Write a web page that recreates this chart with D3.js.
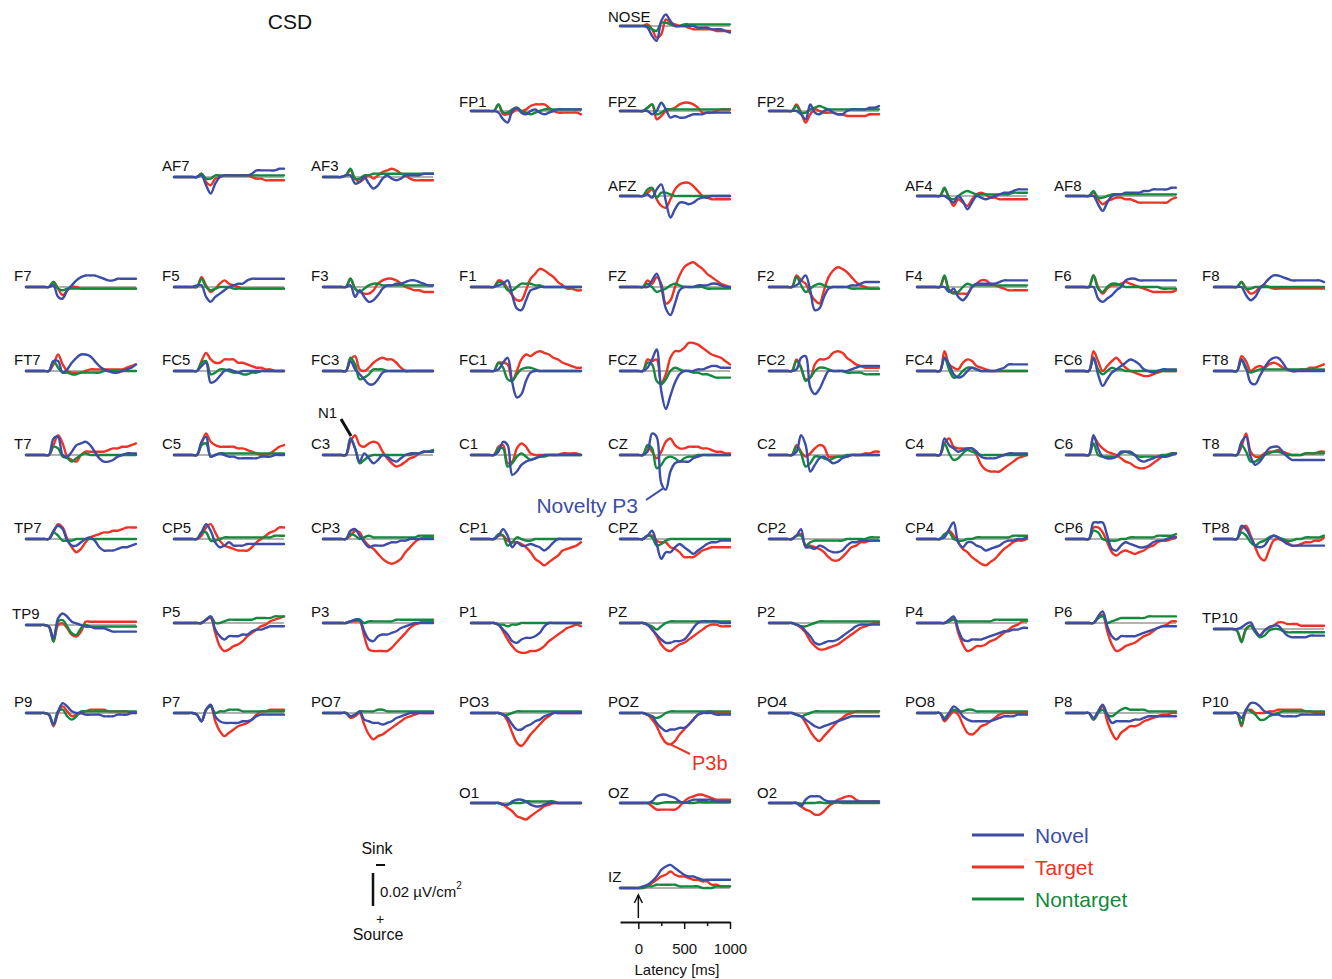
<!DOCTYPE html>
<html>
<head>
<meta charset="utf-8">
<title>CSD</title>
<script src="https://cdn.jsdelivr.net/npm/d3@7"></script>
<style>
  html, body { margin: 0; padding: 0; background: #fff; }
  svg { display: block; font-family: "Liberation Sans", Arial, Helvetica, sans-serif; }
</style>
</head>
<body>
<svg id="chart" width="1332" height="979"></svg>
<script>
'use strict';

// sample times in ms, one every 50 ms
const times = [-200, -150, -100, -50, 0, 50, 100, 150, 200, 250, 300, 350, 400, 450,
  500, 550, 600, 650, 700, 750, 800, 850, 900, 950, 1000];

// CSD in 0.001 µV/cm² (sink negative, drawn up; source positive, drawn down)
const novel = {
  NOSE: [0,0,0,0,0, 0,1,6,9, -3,-7,-3,0,0, 0,0,0,1,1, 1,2,2,2,3,4],
  FP1:  [0,0,0,0,0, 0,1,5,7, 0,-2,1,2,0, -1,1,2,1,0, -1,-1,-1,-1,-1,-1],
  FPZ:  [0,0,0,0,0, 0,0,2,0, -5,-1,4,3,4, 4,3,2,2,2, 1,1,1,1,1,1],
  FP2:  [0,0,0,0,0, 0,0,2,5, -4,1,2,0,-1, 1,2,2,0,-1, -1,-1,-1,-2,-2,-3],
  AF7:  [0,0,0,0,0, 0,-1,5,10, 4,0,-1,-1,-1, -1,-1,-1,-2,-4, -4,-4,-4,-4,-5,-5],
  AF3:  [0,0,0,0,0, -1,-1,4,3, 0,4,7,5,1, -1,1,2,1,-1, -1,-1,-1,-2,-2,-2],
  AFZ:  [0,0,0,0,0, 0,-1,1,-4, -7,3,13,8,4, 4,5,4,2,1, 1,0,0,0,0,0],
  AF4:  [0,0,0,0,0, 0,0,2,4, 0,3,8,4,0, 1,2,1,0,-1, -2,-2,-3,-4,-4,-4],
  AF8:  [0,0,0,0,0, 0,0,5,9, 4,0,-1,-1,-2, -2,-2,-2,-3,-3, -4,-4,-4,-4,-5,-5],
  F7:   [0,0,0,0,0, 0,-1,6,7, 2,-1,-4,-6,-7, -7,-7,-6,-5,-4, -4,-5,-5,-5,-5,-5],
  F5:   [0,0,0,0,0, -1,-1,6,9, 6,4,2,0,-1, -2,-2,-4,-5,-5, -5,-5,-5,-5,-5,-5],
  F3:   [0,0,0,0,0, 0,-1,6,2, 6,9,8,5,1, -1,-1,-2,-2,-3, -4,-4,-3,-2,-1,-1],
  F1:   [0,0,0,0,0, 0,-1,-2,-4, 5,13,14,8,2, 1,0,0,0,0, 0,0,0,0,0,0],
  FZ:   [0,0,0,0,0, 0,0,-4,-8, 0,13,17,10,2, 0,0,0,-1,-1, -1,-2,-2,-1,0,0],
  F2:   [0,0,0,0,0, 0,-1,-4,-7, 2,14,13,6,1, 0,0,0,0,-1, -1,-2,-3,-3,-3,-3],
  F4:   [0,0,0,0,0, 0,0,3,1, 6,8,5,0,-2, -2,-2,-2,-2,-3, -4,-4,-4,-4,-4,-4],
  F6:   [0,0,0,0,0, 0,0,7,9, 7,5,2,0,-4, -5,-5,-4,-4,-4, -4,-4,-4,-4,-4,-4],
  F8:   [0,0,0,0,0, 0,0,5,8, 6,1,-2,-5,-7, -7,-6,-5,-4,-4, -4,-4,-4,-4,-4,-3],
  FT7:  [0,0,0,0,0, 0,-6,-6,1, -1,-5,-8,-10,-10, -9,-6,-3,-1,0, 1,1,0,-1,-2,-4],
  FC5:  [0,0,0,0,0, 0,-3,-5,7, 6,3,0,-1,0, 1,0,0,0,0, 0,0,0,0,0,0],
  FC3:  [0,0,0,0,0, 0,-6,-1,2, 5,8,8,5,1, 0,0,0,0,0, 0,0,0,0,0,0],
  FC1:  [0,0,0,0,0, 0,-1,-5,-8, 7,16,14,6,1, 0,0,0,0,0, 0,0,0,0,0,0],
  FCZ:  [0,0,0,0,0, 0,-2,-7,-13, 12,23,15,7,2, 0,0,0,-1,-1, -2,-3,-3,-2,-2,-2],
  FC2:  [0,0,0,0,0, 0,-1,-8,-9, 10,14,11,5,0, 0,0,0,0,-1, -2,-3,-3,-3,-3,-3],
  FC4:  [0,0,0,0,0, 0,-8,-4,2, 4,3,0,-2,-1, 0,0,0,0,-1, -2,-4,-4,-4,-4,-4],
  FC6:  [0,0,0,0,0, 0,-8,2,9, 5,1,-1,-3,-5, -7,-6,-4,-1,0, 1,0,-1,-1,-1,-1],
  FT8:  [0,0,0,0,0, 0,-7,-2,7, 8,3,-2,-6,-8, -8,-5,-1,0,0, 0,0,0,0,0,0],
  T7:   [0,0,0,0,0, 0,-10,-11,0, 1,-2,-6,-7,-8, -6,-2,2,4,4, 3,1,0,-1,-1,-1],
  C5:   [0,0,0,0,0, 0,-8,-11,1, 0,-1,0,1,1, 2,2,2,2,2, 1,1,1,0,0,0],
  C3:   [0,0,0,0,0, 0,-10,-4,4, -1,2,5,3,0, 1,3,4,2,0, -1,-1,-1,-2,-2,-2],
  C1:   [0,0,0,0,0, 0,-2,-8,-6, 12,10,6,4,3, 2,1,0,0,0, 0,0,0,0,0,0],
  CZ:   [0,0,0,0,0, 0,-2,-13,-11, 17,21,10,5,4, 4,4,2,1,0, 0,0,0,0,0,0],
  C2:   [0,0,0,0,0, 0,-2,-12,-6, 10,6,2,1,3, 5,4,2,1,0, 0,0,0,0,0,0],
  C4:   [0,0,0,0,0, 0,-10,-6,-4, -2,-3,-4,-4,-2, 1,2,2,2,1, 0,-1,-1,-1,-1,-1],
  C6:   [0,0,0,0,0, 0,-12,-4,1, 2,2,1,-2,-2, -2,0,3,4,3, 2,1,1,1,0,-1],
  T8:   [0,0,0,0,0, 0,-8,-11,1, 6,4,0,-4,-5, -5,-2,1,3,3, 3,3,3,3,3,3],
  TP7:  [0,0,0,0,0, 0,-5,-8,-6, 1,4,4,2,0, -1,1,5,7,7, 7,6,5,5,4,3],
  CP5:  [0,0,0,0,0, 0,-4,-9,-5, 2,5,4,2,4, 4,4,3,3,3, 3,3,3,3,3,3],
  CP3:  [0,0,0,0,0, 0,-5,-6,-2, 2,5,4,4,4, 3,2,2,1,1, 0,0,0,0,0,0],
  CP1:  [0,0,0,0,0, 0,-2,-6,-2, 5,2,4,4,3, 4,5,7,5,2, 0,0,0,0,0,0],
  CPZ:  [0,0,0,0,0, 0,-2,-5,3, 12,8,8,5,3, 5,7,9,7,5, 3,2,2,1,1,1],
  CP2:  [0,0,0,0,0, 0,-2,-6,5, 5,6,4,5,7, 8,8,7,4,2, 2,1,1,1,1,1],
  CP4:  [0,0,0,0,0, 0,-1,-6,-10, 2,5,2,2,4, 5,7,6,5,4, 2,1,1,0,0,-1],
  CP6:  [0,0,0,0,0, 0,-10,-10,-10, -2,6,7,4,2, 3,4,5,5,4, 2,1,1,0,-1,-1],
  TP8:  [0,0,0,0,0, 0,-8,-6,-1, 4,5,4,0,-2, -1,1,3,4,4, 4,4,4,4,4,4],
  TP9:  [0,0,0,0,0, 1,8,-4,-7, -5,-2,-1,0,1, 1,2,2,2,3, 4,4,4,4,4,4],
  P5:   [0,0,0,0,0, 0,0,-2,-4, 4,8,10,8,8, 8,7,7,5,4, 4,3,2,2,2,2],
  P3:   [0,0,0,0,0, 0,-1,-2,-2, 5,10,11,8,7, 7,6,5,3,2, 1,0,0,0,0,0],
  P1:   [0,0,0,0,0, 0,1,4,7, 11,12,10,9,9, 8,6,2,0,0, 0,0,0,0,0,0],
  PZ:   [0,0,0,0,0, 0,1,4,7, 10,12,12,11,11, 10,7,3,0,-1, -1,-1,-1,0,0,0],
  P2:   [0,0,0,0,0, 0,1,2,5, 8,12,13,12,11, 11,10,8,6,4, 2,1,1,1,1,1],
  P4:   [0,0,0,0,0, 0,0,-2,-4, 4,10,11,10,10, 10,9,8,7,6, 5,5,4,4,3,3],
  P6:   [0,0,0,0,0, 0,0,-4,-7, 2,8,10,8,8, 8,8,7,6,5, 4,3,2,2,2,2],
  TP10: [0,0,0,0,0, 0,-1,-3,-4, 1,4,1,-1,-2, -2,1,4,5,5, 5,5,4,4,4,4],
  P9:   [0,0,0,0,0, 1,7,-1,-6, -4,-1,0,0,1, 1,1,1,2,2, 2,1,1,1,0,0],
  P7:   [0,0,0,0,0, 1,5,-2,-5, 2,5,6,6,6, 6,5,5,4,2, 1,1,1,1,1,1],
  PO7:  [0,0,0,0,0, 0,2,1,-1, 4,5,6,6,7, 6,5,3,2,1, 0,0,0,0,0,0],
  PO3:  [0,0,0,0,0, 0,0,1,3, 7,10,10,8,7, 5,4,2,1,0, 0,0,0,0,0,0],
  POZ:  [0,0,0,0,0, 0,1,2,6, 9,11,10,10,9, 9,7,4,1,0, 0,0,1,1,1,1],
  PO4:  [0,0,0,0,0, 0,1,2,4, 6,8,9,8,7, 6,5,4,3,2, 2,2,2,2,2,2],
  PO8:  [0,0,0,0,0, 0,4,0,-4, -2,2,4,5,5, 5,5,5,4,3, 2,2,2,1,1,1],
  P8:   [0,0,0,0,0, 0,3,-1,-5, 1,6,5,5,5, 5,4,4,3,2, 2,2,2,2,2,2],
  P10:  [0,0,0,0,0, 0,3,-2,-6, -6,-4,-1,0,1, 1,2,2,2,2, 1,1,1,1,1,1],
  O1:   [0,0,0,0,0, 0,0,1,1, -1,-2,-2,-1,1, 2,2,1,0,0, 0,0,0,0,0,0],
  OZ:   [0,0,0,0,0, 0,0,-1,-4, -5,-5,-4,-3,-1, 0,-1,-2,-2,-2, -2,-2,-1,-1,-1,-1],
  O2:   [0,0,0,0,0, 0,0,2,-2, -4,-4,-4,-2,-1, -1,-1,-1,-1,-1, -1,-1,-1,-1,-1,-1],
  IZ:   [0,0,0,0,0, -1,-2,-4,-7, -11,-13,-14,-12,-10, -8,-7,-7,-6,-5, -5,-5,-5,-5,-5,-5],
};

const target = {
  NOSE: [0,0,0,0,0, 0,-1,2,7, 5,-4,-2,-1,0, 0,1,2,2,2, 2,2,3,3,3,3],
  FP1:  [0,0,0,0,0, 0,-4,2,2, 1,-1,0,-1,-3, -4,-4,-4,-2,0, 1,1,1,1,1,2],
  FPZ:  [0,0,0,0,0, 0,-2,-4,5, 3,0,-1,-2,-4, -5,-5,-4,-2,1, 1,1,0,-1,-1,-1],
  FP2:  [0,0,0,0,0, 0,-4,1,7, 2,-1,0,1,1, 1,2,2,3,3, 3,3,3,2,2,2],
  AF7:  [0,0,0,0,0, 0,-2,3,5, 1,0,-1,-1,-1, -1,-1,-1,0,1, 1,2,2,2,2,2],
  AF3:  [0,0,0,0,0, -1,-4,1,3, 1,-1,1,-1,-3, -4,-5,-4,-2,-1, 1,2,2,2,2,2],
  AFZ:  [0,0,0,0,0, 0,-2,-4,2, 6,7,2,-4,-7, -8,-8,-6,-3,0, 1,2,2,2,2,2],
  AF4:  [0,0,0,0,0, 0,-4,1,6, 2,4,6,2,-1, -2,-1,1,1,2, 2,2,2,2,2,2],
  AF8:  [0,0,0,0,0, 0,-2,2,5, 3,2,1,1,2, 2,3,4,4,4, 4,4,4,4,2,1],
  F7:   [0,0,0,0,0, 0,-3,1,5, 2,0,0,1,1, 1,1,1,1,1, 1,1,1,1,1,1],
  F5:   [0,0,0,0,0, 0,-6,-1,3, 1,-2,-4,-2,-1, 0,1,1,1,1, 1,1,1,1,1,1],
  F3:   [0,0,0,0,0, 0,-5,1,3, 4,4,2,-2,-4, -5,-5,-4,-2,0, 1,2,2,3,3,3],
  F1:   [0,0,0,0,0, 0,-4,-3,1, 5,8,8,2,-5, -8,-11,-10,-8,-6, -3,-1,1,1,2,2],
  FZ:   [0,0,0,0,0, 0,-4,-2,-6, -2,10,8,0,-7, -12,-14,-15,-13,-11, -8,-6,-4,-2,-1,0],
  F2:   [0,0,0,0,0, 0,-7,-4,-2, 4,8,10,2,-6, -10,-12,-11,-9,-6, -3,-1,0,1,1,1],
  F4:   [0,0,0,0,0, 0,-6,2,3, 4,4,4,0,-2, -4,-4,-2,-1,0, 1,2,2,2,2,2],
  F6:   [0,0,0,0,0, 0,-7,0,4, 1,-1,-1,-2,-3, -2,-1,0,1,2, 3,3,3,3,3,2],
  F8:   [0,0,0,0,0, 0,-3,1,4, 3,0,-1,0,1, 1,1,1,1,1, 1,1,1,1,1,1],
  FT7:  [0,0,0,0,0, 0,-4,-10,-4, 0,1,1,1,0, -1,-1,-1,-1,-1, -1,-1,-1,-2,-3,-4],
  FC5:  [0,0,0,0,0, 0,-6,-11,-7, -5,-5,-7,-7,-7, -5,-5,-4,-3,-2, -2,-1,-1,0,0,0],
  FC3:  [0,0,0,0,0, 0,-7,-9,-1, 0,-2,-5,-7,-8, -7,-7,-5,-2,0, 0,0,0,0,0,0],
  FC1:  [0,0,0,0,0, 0,-5,-5,-4, 6,0,-7,-10,-9, -11,-12,-11,-10,-8, -7,-5,-4,-3,-2,-2],
  FCZ:  [0,0,0,0,0, 0,-7,-6,-7, 7,2,-8,-12,-12, -14,-17,-17,-16,-14, -12,-10,-9,-8,-6,-4],
  FC2:  [0,0,0,0,0, 0,-7,-2,5, 4,-4,-7,-7,-8, -11,-12,-11,-8,-6, -4,-3,-2,-2,-2,-2],
  FC4:  [0,0,0,0,0, 0,-12,-4,-2, -1,-5,-7,-6,-3, -2,-1,0,0,0, 0,0,0,0,0,0],
  FC6:  [0,0,0,0,0, 0,-12,-6,0, -3,-6,-8,-5,-2, 0,1,2,3,3, 2,1,0,0,0,0],
  FT8:  [0,0,0,0,0, 0,-9,-6,0, -2,-3,-2,-4,-5, -4,-2,-1,0,0, -1,-1,-2,-2,-3,-4],
  T7:   [0,0,0,0,0, 0,-6,-12,-7, 1,3,4,0,-2, -2,-2,-2,-2,-3, -4,-4,-5,-5,-6,-7],
  C5:   [0,0,0,0,0, 0,-7,-13,-8, -6,-5,-5,-5,-5, -4,-4,-3,-2,-1, 0,0,-1,-3,-5,-6],
  C3:   [0,0,0,0,0, 0,-8,-12,-6, -5,-7,-8,-7,-2, 2,5,7,6,4, 2,1,-1,-2,-2,-3],
  C1:   [0,0,0,0,0, 0,-5,-6,5, 4,-4,-7,-5,-1, 0,0,0,0,0, 0,-1,-1,-1,-1,0],
  CZ:   [0,0,0,0,0, 0,-5,-2,2, -2,-8,-10,-6,-4, -4,-5,-5,-5,-4, -4,-3,-2,-2,-1,-1],
  C2:   [0,0,0,0,0, 0,-6,-2,1, -1,-4,-6,-5,1, 1,1,1,1,0, 0,0,-1,-1,-2,-2],
  C4:   [0,0,0,0,0, 0,-7,-10,-5, -4,-4,-4,-4,0, 6,9,10,10,10, 8,6,4,2,1,0],
  C6:   [0,0,0,0,0, 0,-11,-7,-4, -2,-1,0,2,4, 5,7,8,8,7, 5,3,1,0,-1,-1],
  T8:   [0,0,0,0,0, 0,-5,-13,-2, 1,1,-1,-2,-2, -3,-2,-1,0,0, 0,-1,-1,-1,-2,-2],
  TP7:  [0,0,0,0,0, 0,-4,-9,-7, 0,5,8,6,2, -1,-2,-3,-4,-4, -5,-5,-6,-7,-7,-7],
  CP5:  [0,0,0,0,0, 0,-2,-7,-9, -4,1,4,5,6, 7,7,7,5,2, 0,-2,-4,-5,-7,-7],
  CP3:  [0,0,0,0,0, 0,-2,-5,-4, 1,4,6,9,12, 14,15,14,12,8, 5,2,0,-1,-1,-1],
  CP1:  [0,0,0,0,0, 0,-2,-2,1, 2,2,3,5,8, 12,14,16,14,12, 10,7,6,5,4,2],
  CPZ:  [0,0,0,0,0, 0,-2,-2,1, 2,2,5,6,8, 11,11,11,9,7, 6,5,5,5,5,5],
  CP2:  [0,0,0,0,0, 0,-2,-3,4, 4,5,6,8,11, 13,13,11,8,5, 4,2,2,1,1,1],
  CP4:  [0,0,0,0,0, 0,-2,-5,-2, 2,6,8,11,13, 15,16,14,12,9, 6,4,2,1,1,0],
  CP6:  [0,0,0,0,0, 0,-7,-7,-4, 2,8,10,8,7, 8,9,8,7,5, 4,2,1,1,0,-1],
  TP8:  [0,0,0,0,0, 0,-6,-8,-2, 5,11,13,7,1, 0,1,2,4,4, 3,2,2,1,1,-1],
  TP9:  [0,0,0,0,0, 1,10,0,-1, 2,6,7,4,-2, -2,-2,-2,-2,-2, -2,-2,-2,-2,-2,-2],
  P5:   [0,0,0,0,0, 0,0,-2,-3, 6,14,17,16,14, 13,11,8,6,4, 2,1,-1,-2,-3,-4],
  P3:   [0,0,0,0,0, 0,-1,-1,-1, 8,16,17,17,17, 17,15,12,9,6, 3,1,0,-1,-1,-1],
  P1:   [0,0,0,0,0, 0,1,5,10, 14,17,18,18,17, 17,16,14,11,9, 7,5,3,2,1,2],
  PZ:   [0,0,0,0,0, 0,1,4,8, 13,16,17,15,13, 12,10,8,6,4, 2,1,1,2,2,2],
  P2:   [0,0,0,0,0, 0,1,3,6, 11,14,16,16,15, 14,13,11,9,7, 5,3,2,1,0,0],
  P4:   [0,0,0,0,0, 0,0,-1,-3, 6,13,17,16,14, 14,13,11,10,8, 6,4,2,1,-1,-1],
  P6:   [0,0,0,0,0, 0,0,-3,-5, 5,13,17,16,14, 13,12,10,8,7, 5,3,2,1,-1,-1],
  TP10: [0,0,0,0,0, 1,7,0,-2, 1,4,1,-1,-2, -4,-4,-3,-3,-3, -2,-2,-2,-2,-2,-2],
  P9:   [0,0,0,0,0, 1,8,0,-4, -1,2,1,0,-1, -2,-2,-2,-2,-1, -1,-1,-1,-1,0,0],
  P7:   [0,0,0,0,0, 1,5,-2,-4, 5,11,14,12,10, 8,7,6,4,1, -1,-1,-2,-2,-2,-2],
  PO7:  [0,0,0,0,0, 0,3,2,0, 7,13,16,14,13, 11,9,7,5,3, 2,1,0,0,0,0],
  PO3:  [0,0,0,0,0, 0,0,1,5, 12,18,20,17,13, 10,7,4,2,0, 0,0,0,0,0,0],
  POZ:  [0,0,0,0,0, 0,1,4,8, 14,18,19,17,13, 10,7,4,1,0, -1,-1,0,0,0,0],
  PO4:  [0,0,0,0,0, 0,1,2,6, 11,15,17,14,11, 8,5,3,1,0, -1,-1,-1,-1,-1,-1],
  PO8:  [0,0,0,0,0, 0,5,2,-1, 1,7,12,13,11, 8,7,5,3,1, 0,0,0,0,0,0],
  P8:   [0,0,0,0,0, 0,4,0,-4, 5,12,16,12,10, 8,8,7,5,4, 3,2,1,1,0,0],
  P10:  [0,0,0,0,0, 0,8,-1,-2, 0,0,0,-1,-1, -2,-2,-2,-2,-2, -2,-1,-1,0,0,0],
  O1:   [0,0,0,0,0, 0,0,1,3, 5,8,9,10,8, 6,4,2,1,0, 0,0,0,0,0,0],
  OZ:   [0,0,0,0,0, 0,0,2,4, 4,4,4,4,2, -1,-3,-4,-5,-5, -4,-3,-2,-2,-2,-2],
  O2:   [0,0,0,0,0, 0,0,2,4, 5,7,7,5,2, 0,-2,-3,-4,-4, -2,-1,-1,-1,-1,-1],
  IZ:   [0,0,0,0,0, 0,-1,-3,-5, -7,-8,-10,-8,-7, -7,-6,-5,-5,-4, -4,-2,-2,-1,-1,-1],
};

const nontarget = {
  NOSE: [0,0,0,0,0, 0,0,2,3, -2,-2,-1,0,0, -1,-1,-1,-1,-1, -1,-1,-1,-1,-1,-1],
  FP1:  [0,0,0,0,0, 0,-4,1,1, -1,-2,0,1,2, 1,0,-1,-1,-1, -1,-1,-1,-1,-1,-1],
  FPZ:  [0,0,0,0,0, 0,-2,-4,2, 1,-1,-1,-1,-1, -1,-1,-1,-1,-1, -1,-1,-1,-1,-1,-1],
  FP2:  [0,0,0,0,0, 0,-3,1,1, -1,-2,-3,-2,-1, -1,-1,-1,-1,-1, -1,-1,-1,-1,-1,-1],
  AF7:  [0,0,0,0,0, 0,-2,1,1, -1,-1,-1,-1,-1, -1,-1,-1,-1,-1, -1,-1,-1,-1,-1,-1],
  AF3:  [0,0,0,0,0, -1,-5,1,1, -1,-1,-2,-2,-2, -2,-2,-2,-2,-2, -2,-2,-2,-2,-2,-2],
  AFZ:  [0,0,0,0,0, 0,-4,-5,1, -2,-2,-1,0,0, 0,0,0,0,0, 0,0,0,0,0,0],
  AF4:  [0,0,0,0,0, 0,-5,1,2, 0,-2,-3,-2,-1, -1,-1,-1,-1,-1, -1,-1,-2,-2,-2,-2],
  AF8:  [0,0,0,0,0, 0,-3,1,1, 0,-1,-1,-1,-1, -1,-1,-1,-1,-1, -1,-1,-1,-1,-1,-1],
  F7:   [0,0,0,0,0, 0,-3,1,2, 1,1,1,1,1, 1,1,1,1,1, 1,1,1,1,1,1],
  F5:   [0,0,0,0,0, 0,-5,0,2, 1,0,0,0,1, 1,1,1,1,1, 1,1,1,1,1,1],
  F3:   [0,0,0,0,0, 0,-5,1,3, 1,-1,-2,-2,-1, -1,-1,-1,-1,-1, -1,-1,-1,-1,-1,-1],
  F1:   [0,0,0,0,0, 0,-3,-2,2, 2,0,-2,-2,-2, -1,-1,0,0,0, 0,0,0,0,0,0],
  FZ:   [0,0,0,0,0, 0,-2,0,3, 2,1,-1,-2,-1, 0,0,0,0,0, 1,1,1,1,1,1],
  F2:   [0,0,0,0,0, 0,-6,-1,3, 1,-1,-2,-1,0, 0,0,0,0,1, 1,1,1,1,1,1],
  F4:   [0,0,0,0,0, 0,-7,2,4, 3,0,-2,-1,-1, -1,-1,-1,-1,-1, -1,-1,-1,-1,-1,-1],
  F6:   [0,0,0,0,0, 0,-7,1,3, 0,-2,-2,-1,0, 0,0,0,0,0, 0,0,1,1,1,1],
  F8:   [0,0,0,0,0, 0,-3,1,1, 0,0,0,0,0, 0,0,0,0,0, 0,0,0,0,0,0],
  FT7:  [0,0,0,0,0, 0,-6,-2,1, 1,2,2,1,1, 1,1,1,0,0, 0,0,0,0,0,0],
  FC5:  [0,0,0,0,0, 0,-5,-6,2, 1,-1,-1,0,1, 1,2,2,1,1, 0,0,0,0,0,0],
  FC3:  [0,0,0,0,0, 0,-8,-4,5, 4,2,-1,-1,-1, 0,0,0,0,0, 0,0,0,0,0,0],
  FC1:  [0,0,0,0,0, 0,-5,-2,5, 6,2,-1,-2,-2, -1,0,0,0,0, 0,0,0,0,0,0],
  FCZ:  [0,0,0,0,0, 0,-5,-4,6, 8,5,0,-2,-1, 0,0,1,1,2, 2,3,4,4,4,4],
  FC2:  [0,0,0,0,0, 0,-6,-2,6, 4,0,-2,-2,-1, 0,0,0,1,1, 1,1,2,2,2,2],
  FC4:  [0,0,0,0,0, 0,-8,-1,4, 3,0,-2,-2,-1, 0,0,0,0,0, 0,0,0,0,0,0],
  FC6:  [0,0,0,0,0, 0,-8,-1,2, 0,-2,-1,-1,0, 0,0,0,0,0, 0,0,0,0,0,0],
  FT8:  [0,0,0,0,0, 0,-7,-1,1, 0,-1,-1,-1,-1, -1,-1,-1,-1,-1, -1,-1,-1,-1,-1,-1],
  T7:   [0,0,0,0,0, 0,-5,-4,1, 2,4,2,0,-1, 0,0,0,0,0, 0,0,0,0,0,0],
  C5:   [0,0,0,0,0, 0,-6,-7,1, 0,-1,-1,-1,-1, -1,-1,-1,-1,-1, -1,-1,-1,-1,-1,-1],
  C3:   [0,0,0,0,0, 0,-10,-4,5, 3,1,0,0,0, 0,0,0,0,0, 0,-1,-1,-2,-2,-3],
  C1:   [0,0,0,0,0, 0,-4,-4,7, 5,1,-1,1,3, 2,1,1,0,0, 0,0,0,0,0,0],
  CZ:   [0,0,0,0,0, 0,-6,-4,8, 6,2,1,2,4, 2,1,1,0,0, 0,0,0,0,0,0],
  C2:   [0,0,0,0,0, 0,-5,-1,7, 5,1,1,2,3, 2,1,1,0,0, 0,0,0,0,0,0],
  C4:   [0,0,0,0,0, 0,-7,-1,3, 2,-1,-3,-2,-1, 0,0,0,0,0, 0,0,0,0,0,0],
  C6:   [0,0,0,0,0, 0,-7,0,1, 1,1,1,-1,-2, -1,0,1,1,1, 1,1,0,0,-1,-1],
  T8:   [0,0,0,0,0, 0,-6,-2,4, 4,2,0,-1,-2, -2,-1,0,0,0, 0,-1,-1,-1,-1,-1],
  TP7:  [0,0,0,0,0, 0,-4,-2,1, 1,1,0,0,0, 0,0,0,0,0, 0,0,0,0,0,0],
  CP5:  [0,0,0,0,0, 0,-4,-4,1, 1,0,-1,-1,-1, -1,-1,-1,-1,-1, -1,-1,-1,-2,-2,-2],
  CP3:  [0,0,0,0,0, 0,-3,-2,0, -1,-2,-1,-1,-1, -1,-1,-1,-1,-1, -1,-1,-2,-2,-2,-2],
  CP1:  [0,0,0,0,0, 0,-3,-2,4, 2,-1,0,1,1, 0,0,0,0,0, 0,0,0,0,0,0],
  CPZ:  [0,0,0,0,0, 0,-2,-1,4, 3,1,0,0,0, 0,0,0,0,0, 0,0,0,0,0,0],
  CP2:  [0,0,0,0,0, 0,-2,-2,4, 2,1,1,1,1, 1,1,1,0,0, 0,0,0,-1,-1,-1],
  CP4:  [0,0,0,0,0, 0,-3,-4,0, 1,1,0,0,-1, -1,-1,-1,-1,-1, -1,-1,-2,-2,-2,-2],
  CP6:  [0,0,0,0,0, 0,-5,-4,0, 1,1,1,0,0, -1,-1,-1,-1,-1, -1,-2,-2,-2,-2,-3],
  TP8:  [0,0,0,0,0, 0,-4,-2,2, 4,2,1,-1,-2, -1,0,1,1,0, 0,-1,-1,-1,-1,-2],
  TP9:  [0,0,0,0,0, 1,10,-2,-3, 1,5,6,2,0, 1,1,1,1,1, 1,1,1,1,1,1],
  P5:   [0,0,0,0,0, 0,0,-2,-4, 0,0,-1,-2,-2, -2,-2,-2,-2,-3, -3,-3,-3,-4,-4,-4],
  P3:   [0,0,0,0,0, 0,-1,-2,-2, 0,-1,-1,-1,-1, -1,-1,-2,-2,-2, -2,-2,-2,-2,-2,-2],
  P1:   [0,0,0,0,0, 0,1,1,2, 1,1,0,0,0, 0,0,0,0,0, 0,0,0,0,0,0],
  PZ:   [0,0,0,0,0, 0,1,2,4, 2,0,-1,-1,-1, -1,-1,-1,-1,-1, -1,-1,-1,-1,-1,-1],
  P2:   [0,0,0,0,0, 0,1,2,2, 1,0,-1,-1,-1, -1,-1,-1,-1,-1, -1,-1,-1,-1,-1,-1],
  P4:   [0,0,0,0,0, 0,0,-1,-2, -1,-1,-1,-1,-1, -1,-1,-1,-2,-2, -2,-2,-2,-2,-2,-2],
  P6:   [0,0,0,0,0, 0,0,-3,-4, 0,-1,-2,-3,-3, -3,-3,-3,-3,-4, -4,-4,-4,-4,-4,-4],
  TP10: [0,0,0,0,0, 1,8,0,-2, 2,5,4,1,0, 0,1,2,2,2, 2,2,2,2,2,2],
  P9:   [0,0,0,0,0, 1,7,-1,-2, 2,4,2,-1,-1, -1,-1,-1,-1,-1, -1,-1,-1,-1,-1,-1],
  P7:   [0,0,0,0,0, 1,5,-2,-4, 0,-1,-1,-2,-2, -2,-1,-1,-1,-1, -1,-1,-1,-1,-1,-1],
  PO7:  [0,0,0,0,0, 0,2,1,-1, -1,-1,-1,-2,-2, -1,-1,-1,-1,-1, -1,-1,-1,-1,-1,-1],
  PO3:  [0,0,0,0,0, 0,0,1,1, 0,-1,-1,-1,-1, -1,-1,-1,-1,-1, -1,-1,-1,-1,-1,-1],
  POZ:  [0,0,0,0,0, 0,1,2,3, 2,0,-1,-1,-1, -1,-1,-1,-1,-1, -1,-1,-1,-1,-1,-1],
  PO4:  [0,0,0,0,0, 0,1,2,1, 0,-1,-1,-1,-1, -1,-1,-1,-1,-1, -1,-1,-1,-1,-1,-1],
  PO8:  [0,0,0,0,0, 0,3,0,-2, -1,-1,-2,-2,-1, -1,-1,-1,-1,-1, -1,-1,-1,-1,-1,-1],
  P8:   [0,0,0,0,0, 0,4,0,-2, 1,2,0,-2,-3, -2,-2,-2,-2,-1, -1,-1,-1,-1,-1,-1],
  P10:  [0,0,0,0,0, 0,7,-2,-1, 1,4,4,2,1, 0,-1,-1,-1,-1, -1,-1,-1,-1,-1,-1],
  O1:   [0,0,0,0,0, 0,0,1,1, 0,0,0,-1,-1, -1,-1,-1,-1,-1, 0,0,0,0,0,0],
  OZ:   [0,0,0,0,0, 0,0,0,0.5, 0,-0.5,-0.5,-0.5,-0.5, -0.5,0,0,-0.5,-0.5, -0.5,-0.5,-0.5,-0.5,-0.5,-0.5],
  O2:   [0,0,0,0,0, 0,0,0.5,0, 0,0,-0.5,0,0, 0,-0.5,0,0,0, 0,0,0,0,0,0],
  IZ:   [0,0,0,0,0, 0,-1,-1,-2, -2,-2,-2,-2,-1, -1,-1,-1,-1,0, 0,0,-1,-1,-1,-1],
};

const latencyTicks = [0, 500, 1000];
const latencyMinorTicks = [250, 750];
const scaleBarValue = 20; // 0.02 µV/cm²

// page layout: left edge of each column, label y and zero-line y of each row
const columns = [14, 162, 311, 459, 608, 757, 905, 1054, 1202];
const rows = {
  nose: [16, 26], fp: [101, 111], afa: [165, 177], afb: [185, 196],
  f: [275, 287], fc: [359, 371], c: [443, 455], cp: [527, 539],
  p: [611, 623], po: [701, 713], o: [792, 803], iz: [876, 888],
};
const layout = [
  ['NOSE', 4, 'nose'],
  ['FP1', 3, 'fp'], ['FPZ', 4, 'fp'], ['FP2', 5, 'fp'],
  ['AF7', 1, 'afa'], ['AF3', 2, 'afa'], ['AFZ', 4, 'afb'], ['AF4', 6, 'afb'], ['AF8', 7, 'afb'],
  ['F7', 0, 'f'], ['F5', 1, 'f'], ['F3', 2, 'f'], ['F1', 3, 'f'], ['FZ', 4, 'f'],
  ['F2', 5, 'f'], ['F4', 6, 'f'], ['F6', 7, 'f'], ['F8', 8, 'f'],
  ['FT7', 0, 'fc'], ['FC5', 1, 'fc'], ['FC3', 2, 'fc'], ['FC1', 3, 'fc'], ['FCZ', 4, 'fc'],
  ['FC2', 5, 'fc'], ['FC4', 6, 'fc'], ['FC6', 7, 'fc'], ['FT8', 8, 'fc'],
  ['T7', 0, 'c'], ['C5', 1, 'c'], ['C3', 2, 'c'], ['C1', 3, 'c'], ['CZ', 4, 'c'],
  ['C2', 5, 'c'], ['C4', 6, 'c'], ['C6', 7, 'c'], ['T8', 8, 'c'],
  ['TP7', 0, 'cp'], ['CP5', 1, 'cp'], ['CP3', 2, 'cp'], ['CP1', 3, 'cp'], ['CPZ', 4, 'cp'],
  ['CP2', 5, 'cp'], ['CP4', 6, 'cp'], ['CP6', 7, 'cp'], ['TP8', 8, 'cp'],
  ['TP9', 0, 'p', 2, -2], ['P5', 1, 'p'], ['P3', 2, 'p'], ['P1', 3, 'p'], ['PZ', 4, 'p'],
  ['P2', 5, 'p'], ['P4', 6, 'p'], ['P6', 7, 'p'], ['TP10', 8, 'p', 6],
  ['P9', 0, 'po'], ['P7', 1, 'po'], ['PO7', 2, 'po'], ['PO3', 3, 'po'], ['POZ', 4, 'po'],
  ['PO4', 5, 'po'], ['PO8', 6, 'po'], ['P8', 7, 'po'], ['P10', 8, 'po'],
  ['O1', 3, 'o'], ['OZ', 4, 'o'], ['O2', 5, 'o'],
  ['IZ', 4, 'iz'],
];

const colors = { novel: '#3b4da6', target: '#ee3326', nontarget: '#13893d' };
// drawing order, blue ends up on top
const series = [
  { key: 'target', data: target },
  { key: 'nontarget', data: nontarget },
  { key: 'novel', data: novel },
];

const svg = d3.select('#chart');
const waveOffset = 12;
const waveWidth = 110;
const amp = d3.scaleLinear().domain([0, scaleBarValue]).range([0, 33]);

function timeScale(col) {
  const x0 = columns[col] + waveOffset;
  return d3.scaleLinear().domain([times[0], times[times.length - 1]]).range([x0, x0 + waveWidth]);
}

layout.forEach(([name, col, row, shift = 0, dx = 0]) => {
  const [labelY, zeroY] = rows[row];
  const baseY = zeroY + shift;
  const x = timeScale(col);
  const g = svg.append('g').attr('class', 'electrode');

  g.append('text')
    .attr('x', columns[col] + dx)
    .attr('y', labelY + shift)
    .attr('dominant-baseline', 'central')
    .attr('font-size', 15)
    .attr('fill', '#111')
    .text(name);

  g.append('line')
    .attr('x1', x.range()[0]).attr('x2', x.range()[1])
    .attr('y1', baseY).attr('y2', baseY)
    .attr('stroke', '#666').attr('stroke-width', 1.2);

  const line = d3.line()
    .x((d, i) => x(times[i]))
    .y(d => baseY + amp(d))
    .curve(d3.curveCatmullRom.alpha(0.5));

  for (const s of series) {
    const vals = s.data[name].slice(0, times.length);
    g.append('path')
      .attr('d', line(vals))
      .attr('fill', 'none')
      .attr('stroke', colors[s.key])
      .attr('stroke-width', 2.4)
      .attr('stroke-linejoin', 'round')
      .attr('stroke-linecap', 'round');
  }
});

// title
svg.append('text')
  .attr('x', 290).attr('y', 21)
  .attr('text-anchor', 'middle').attr('dominant-baseline', 'central')
  .attr('font-size', 21).attr('fill', '#111')
  .text('CSD');

// N1 pointer on C3
svg.append('text')
  .attr('x', 318).attr('y', 412)
  .attr('dominant-baseline', 'central')
  .attr('font-size', 15).attr('fill', '#111')
  .text('N1');
svg.append('line')
  .attr('x1', 341).attr('y1', 419).attr('x2', 351).attr('y2', 436)
  .attr('stroke', '#111').attr('stroke-width', 3);

// Novelty P3 pointer on CZ
{
  const x = timeScale(4);
  const tx = x(300), ty = rows.c[1] + amp(novel.CZ[times.indexOf(300)]);
  svg.append('line')
    .attr('x1', 646).attr('y1', 500).attr('x2', tx - 3).attr('y2', ty - 1)
    .attr('stroke', colors.novel).attr('stroke-width', 2);
  svg.append('text')
    .attr('x', 638).attr('y', 505)
    .attr('text-anchor', 'end').attr('dominant-baseline', 'central')
    .attr('font-size', 21).attr('fill', colors.novel)
    .text('Novelty P3');
}

// P3b pointer on POZ
{
  const x = timeScale(4);
  const tx = x(350), ty = rows.po[1] + amp(target.POZ[times.indexOf(350)]);
  svg.append('line')
    .attr('x1', tx).attr('y1', ty).attr('x2', 690).attr('y2', 754)
    .attr('stroke', colors.target).attr('stroke-width', 2);
  svg.append('text')
    .attr('x', 692).attr('y', 763)
    .attr('dominant-baseline', 'central')
    .attr('font-size', 20).attr('fill', colors.target)
    .text('P3b');
}

// amplitude scale bar
{
  const barX = 373, barTop = 873;
  const sb = svg.append('g').attr('font-size', 16).attr('fill', '#111');
  sb.append('text').attr('x', 377).attr('y', 848)
    .attr('text-anchor', 'middle').attr('dominant-baseline', 'central').text('Sink');
  sb.append('line').attr('x1', 376).attr('x2', 385).attr('y1', 865).attr('y2', 865)
    .attr('stroke', '#111').attr('stroke-width', 2);
  sb.append('line').attr('x1', barX).attr('x2', barX)
    .attr('y1', barTop).attr('y2', barTop + amp(scaleBarValue))
    .attr('stroke', '#111').attr('stroke-width', 2.5);
  const t = sb.append('text').attr('x', 380).attr('y', 891)
    .attr('dominant-baseline', 'central').attr('font-size', 15);
  t.append('tspan').text('0.02 µV/cm');
  t.append('tspan').attr('font-size', 10).attr('dy', -6).text('2');
  sb.append('text').attr('x', 380).attr('y', 919)
    .attr('text-anchor', 'middle').attr('dominant-baseline', 'central')
    .attr('font-size', 14).text('+');
  sb.append('text').attr('x', 378).attr('y', 934)
    .attr('text-anchor', 'middle').attr('dominant-baseline', 'central').text('Source');
}

// latency axis under IZ
{
  const x = timeScale(4);
  const axisY = 922;
  const ax = svg.append('g').attr('transform', `translate(0,${axisY})`)
    .call(d3.axisBottom(x).tickValues(latencyTicks).tickFormat(d3.format('d'))
      .tickSize(7).tickSizeOuter(0).tickPadding(14));
  ax.select('.domain').attr('stroke', '#111').attr('stroke-width', 2);
  ax.selectAll('.tick line').attr('stroke', '#111').attr('stroke-width', 1.5);
  ax.selectAll('.tick text')
    .attr('font-size', 15).attr('fill', '#111')
    .attr('font-family', '"Liberation Sans", Arial, sans-serif');

  const minor = svg.append('g').attr('transform', `translate(0,${axisY})`)
    .call(d3.axisBottom(x).tickValues(latencyMinorTicks).tickSize(4).tickFormat(''));
  minor.select('.domain').remove();
  minor.selectAll('.tick line').attr('stroke', '#111').attr('stroke-width', 1.5);

  svg.append('text')
    .attr('x', 677).attr('y', 969)
    .attr('text-anchor', 'middle').attr('dominant-baseline', 'central')
    .attr('font-size', 15).attr('fill', '#111')
    .text('Latency [ms]');

  // stimulus onset arrow
  const ox = x(0);
  svg.append('line').attr('x1', ox).attr('x2', ox).attr('y1', axisY - 4).attr('y2', 895)
    .attr('stroke', '#111').attr('stroke-width', 1.5);
  svg.append('path')
    .attr('d', `M${ox - 4},${903} L${ox},${895} L${ox + 4},${903}`)
    .attr('fill', 'none').attr('stroke', '#111').attr('stroke-width', 1.5);
}

// legend
{
  const items = [['Novel', 'novel'], ['Target', 'target'], ['Nontarget', 'nontarget']];
  const lg = svg.append('g');
  items.forEach(([label, key], i) => {
    const y = 835 + i * 32;
    lg.append('line').attr('x1', 972).attr('x2', 1024).attr('y1', y).attr('y2', y)
      .attr('stroke', colors[key]).attr('stroke-width', 3);
    lg.append('text').attr('x', 1035).attr('y', y)
      .attr('dominant-baseline', 'central')
      .attr('font-size', 21).attr('fill', colors[key])
      .text(label);
  });
}
</script>
</body>
</html>
